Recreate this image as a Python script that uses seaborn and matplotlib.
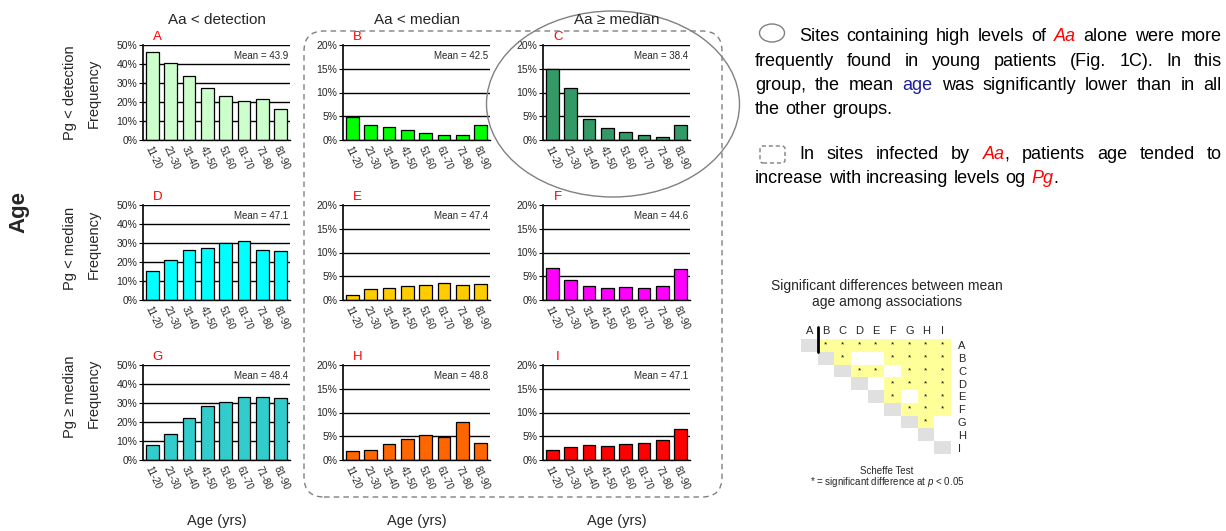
import matplotlib
matplotlib.use("Agg")
import matplotlib.pyplot as plt
import seaborn as sns
import numpy as np
import pandas as pd
from matplotlib.colors import ListedColormap
from matplotlib.patches import Ellipse, FancyBboxPatch
from matplotlib.transforms import IdentityTransform

# ---- data ----
age_groups = ["11-20", "21-30", "31-40", "41-50", "51-60", "61-70", "71-80", "81-90"]

freq_A = [46.3, 40.7, 33.7, 27.4, 23.2, 20.4, 21.4, 16.1]
freq_B = [4.8, 3.2, 2.7, 2.2, 1.5, 1.1, 1.1, 3.2]
freq_C = [14.9, 10.9, 4.4, 2.5, 1.6, 1.1, 0.7, 3.2]
freq_D = [15.4, 21.2, 26.5, 27.5, 29.8, 30.9, 26.3, 26.0]
freq_E = [1.05, 2.3, 2.6, 2.9, 3.1, 3.6, 3.1, 3.3]
freq_F = [6.7, 4.3, 3.0, 2.5, 2.7, 2.5, 3.0, 6.5]
freq_G = [8.0, 13.5, 21.9, 28.5, 30.6, 33.0, 33.2, 32.6]
freq_H = [1.8, 2.2, 3.3, 4.4, 5.2, 4.9, 7.9, 3.5]
freq_I = [2.1, 2.8, 3.1, 3.0, 3.4, 3.5, 4.2, 6.6]

panel_letters = ["A", "B", "C", "D", "E", "F", "G", "H", "I"]
mean_ages = [43.9, 42.5, 38.4, 47.1, 47.4, 44.6, 48.4, 48.8, 47.1]
aa_levels = ["Aa < detection", "Aa < median", "Aa \u2265 median"]
pg_levels = ["Pg < detection", "Pg < median", "Pg \u2265 median"]

# Scheffe test: which later groups each group differs from (p < 0.05)
sig_with = {"A": "BCDEFGHI", "B": "CFGHI", "C": "DEGHI", "D": "FGHI",
            "E": "FHI", "F": "GHI", "G": "H", "H": "", "I": ""}

colors = ["#CCFFCC", "#00FF00", "#339966", "#00FFFF", "#FFCC00",
          "#FF00FF", "#33CCCC", "#FF6600", "#FF0000"]

sns.set_style("white")
plt.rcParams["font.family"] = ["Liberation Sans", "DejaVu Sans"]
plt.rcParams["mathtext.fontset"] = "custom"
plt.rcParams["mathtext.it"] = "Liberation Sans:italic"
plt.rcParams["mathtext.rm"] = "Liberation Sans"

W, H = 1226, 531
fig = plt.figure(figsize=(W / 100, H / 100), dpi=100)
PX = IdentityTransform()


def px_axes(left, top, w, h):
    return fig.add_axes([left / W, 1 - (top + h) / H, w / W, h / H])


def ftext(x, y, s, **kw):
    return fig.text(x / W, 1 - y / H, s, **kw)


# ---- 3x3 histogram panels ----
freqs = [freq_A, freq_B, freq_C, freq_D, freq_E, freq_F, freq_G, freq_H, freq_I]
col_left = [143, 343, 543]
row_top = [45, 205, 365]

for k in range(9):
    r, c = divmod(k, 3)
    ax = px_axes(col_left[c], row_top[r], 147, 95)
    sns.barplot(x=age_groups, y=freqs[k], color=colors[k], saturation=1,
                width=0.7, edgecolor="black", linewidth=0.9, ax=ax)
    ymax = 50 if c == 0 else 20
    step = 10 if c == 0 else 5
    ax.set_ylim(0, ymax)
    ax.set_xlim(-0.5, 7.5)
    yt = np.arange(0, ymax + 1, step)
    ax.set_yticks(yt)
    ax.set_yticklabels([f"{v:g}%" for v in yt], fontsize=7.5)
    ax.set_xticks(range(8))
    ax.set_xticklabels(age_groups, rotation=-65, ha="left", va="top",
                       rotation_mode="anchor", fontsize=7)
    ax.set_xlabel("")
    ax.set_ylabel("")
    ax.set_axisbelow(True)
    ax.yaxis.grid(True, color="black", linewidth=1.0)
    for s in ["top", "right"]:
        ax.spines[s].set_visible(False)
    ax.spines["left"].set_color("black")
    ax.spines["left"].set_linewidth(1.2)
    ax.spines["bottom"].set_color("black")
    ax.spines["bottom"].set_linewidth(1.0)
    ax.tick_params(axis="y", length=3, width=0.8, pad=1, left=True, color="black")
    ax.tick_params(axis="x", length=0, pad=3)
    ax.text(0.985, 0.885, f"Mean = {mean_ages[k]}", transform=ax.transAxes,
            ha="right", va="center", fontsize=7)
    ax.text(0.1, 1.02, panel_letters[k], transform=ax.transAxes,
            ha="center", va="bottom", fontsize=9.5, color="red")

# column / row headings
for c, lab in enumerate(aa_levels):
    cx = col_left[c] + 74
    ftext(cx, 20, lab, ha="center", va="center", fontsize=11)
    ftext(cx, 521, "Age (yrs)", ha="center", va="center", fontsize=10.5)

for r, lab in enumerate(pg_levels):
    ftext(70, [93, 248, 397][r], lab, rotation=90, ha="center", va="center", fontsize=10.5)
    ftext(94, [93, 244, 393][r], "Frequency", rotation=90, ha="center", va="center", fontsize=10.5)

ftext(19, 212, "Age", rotation=90, ha="center", va="center", fontsize=16, fontweight="bold")

# dashed rounded box and ellipse highlighting groups
fig.add_artist(FancyBboxPatch((304, H - 497), 418, 466,
                              boxstyle="round,pad=0,rounding_size=20",
                              transform=PX, fill=False, edgecolor="#808080",
                              linestyle=(0, (4, 3)), linewidth=1))
fig.add_artist(Ellipse((613, H - 104), 253, 186, transform=PX, fill=False,
                       edgecolor="#808080", linewidth=1))

# small legend icons
fig.add_artist(Ellipse((772, H - 33), 25, 18, transform=PX, fill=False,
                       edgecolor="#808080", linewidth=1))
fig.add_artist(FancyBboxPatch((760, H - 163), 25, 17,
                              boxstyle="round,pad=0,rounding_size=3",
                              transform=PX, fill=False, edgecolor="#808080",
                              linestyle=(0, (3, 2)), linewidth=1))

# ---- justified explanatory text ----
FS = 13
renderer = fig.canvas.get_renderer()
K, R, N = "black", "#FF0000", "#1F1F99"


def w(*segs):
    return list(segs)


def put_line(words, x0, x1, y, justify=True):
    items, widths = [], []
    for word in words:
        ts, tot = [], 0
        for txt, col, sty in word:
            t = fig.text(0, 0, txt, color=col, style=sty, fontsize=FS,
                         ha="left", va="baseline", transform=PX)
            tw = t.get_window_extent(renderer).width
            ts.append((t, tw))
            tot += tw
        items.append(ts)
        widths.append(tot)
    if justify:
        gap = (x1 - x0 - sum(widths)) / (len(words) - 1)
    else:
        gap = FS * 100 / 72 * 0.30
    x = x0
    for ts, tot in zip(items, widths):
        xx = x
        for t, tw in ts:
            t.set_position((xx, H - y))
            xx += tw
        x += tot + gap


def plain(s):
    return [w((t, K, "normal")) for t in s.split()]


put_line(plain("Sites containing high levels of") + [w(("Aa", R, "italic"))]
         + plain("alone were more"), 799, 1222, 41)
put_line(plain("frequently found in young patients (Fig. 1C). In this"), 755, 1222, 66)
put_line(plain("group, the mean") + [w(("age", N, "normal"))]
         + plain("was significantly lower than in all"), 755, 1222, 90)
put_line(plain("the other groups."), 755, 1222, 114, justify=False)
put_line(plain("In sites infected by") + [w(("Aa", R, "italic"), (",", K, "normal"))]
         + plain("patients age tended to"), 799, 1222, 159)
put_line(plain("increase with increasing levels og")
         + [w(("Pg", R, "italic"), (".", K, "normal"))], 755, 1222, 183, justify=False)

# ---- significance matrix (Scheffe test) ----
letters = panel_letters
n = len(letters)
mat = np.zeros((n, n))
stars = np.full((n, n), "", dtype=object)
for i, a in enumerate(letters):
    mat[i, i] = 2
    for b in sig_with[a]:
        j = letters.index(b)
        mat[i, j] = 1
        stars[i, j] = "*"
sig_df = pd.DataFrame(mat, index=letters, columns=letters)

axm = px_axes(801, 339, 150, 115)
sns.heatmap(sig_df, cmap=ListedColormap(["white", "#FFFF99", "#E0E0E0"]),
            vmin=0, vmax=2, cbar=False, annot=stars, fmt="",
            xticklabels=letters, yticklabels=letters,
            annot_kws={"fontsize": 6, "color": "black"}, ax=axm)
axm.xaxis.tick_top()
axm.yaxis.tick_right()
axm.tick_params(length=0, labelsize=8, pad=2)
axm.tick_params(axis="y", pad=5)
plt.setp(axm.get_xticklabels(), rotation=0)
plt.setp(axm.get_yticklabels(), rotation=0)
axm.plot([1, 1], [-0.95, 1], color="black", linewidth=2, clip_on=False)

ftext(887, 286, "Significant differences between mean", ha="center", va="center", fontsize=10)
ftext(887, 302, "age among associations", ha="center", va="center", fontsize=10)
ftext(887, 471, "Scheffe Test", ha="center", va="center", fontsize=7)
ftext(887, 482, r"* = significant difference at $p$ < 0.05", ha="center", va="center", fontsize=7)

fig.savefig("out.png", dpi=100)
